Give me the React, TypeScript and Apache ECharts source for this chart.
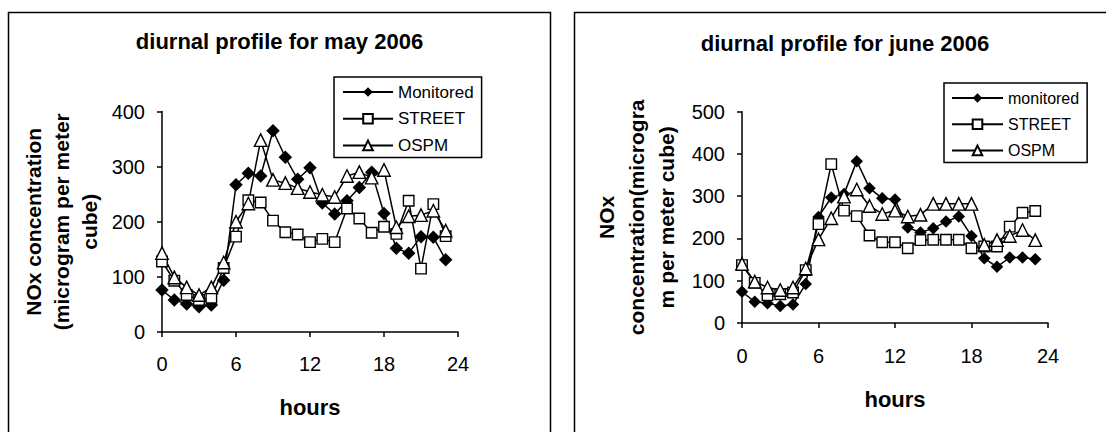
import React, { useEffect, useRef } from "react";
import * as echarts from "echarts";

const hours = [0, 1, 2, 3, 4, 5, 6, 7, 8, 9, 10, 11, 12, 13, 14, 15, 16, 17, 18, 19, 20, 21, 22, 23];

const mayMonitored = [76, 58, 51, 46, 49, 94, 267, 288, 283, 365, 317, 277, 298, 234, 214, 238, 262, 290, 215, 152, 143, 173, 172, 131];
const mayStreet = [128, 93, 67, 58, 62, 116, 173, 239, 235, 202, 181, 177, 163, 169, 163, 224, 206, 180, 191, 178, 238, 115, 232, 174];
const mayOspm = [143, 99, 81, 67, 81, 126, 200, 233, 348, 276, 270, 261, 254, 249, 245, 283, 290, 280, 294, 190, 210, 212, 220, 184];

const juneMonitored = [74, 50, 47, 40, 44, 92, 251, 297, 305, 383, 319, 295, 292, 226, 214, 224, 240, 252, 206, 153, 133, 155, 155, 151];
const juneStreet = [137, 95, 66, 68, 72, 125, 234, 376, 266, 253, 207, 191, 191, 177, 196, 197, 197, 197, 177, 181, 181, 228, 261, 265];
const juneOspm = [140, 98, 84, 78, 84, 129, 198, 248, 299, 316, 277, 258, 266, 252, 256, 282, 282, 282, 282, 185, 196, 206, 220, 196];

const mayNames = ["Monitored", "STREET", "OSPM"];
const juneNames = ["monitored", "STREET", "OSPM"];

const titles = ["diurnal profile for may 2006", "diurnal profile for june 2006"];
const yNames = ["NOx concentration\n(microgram per meter\ncube)", "NOx\nconcentration(microgra\nm per meter cube)"];
const xName = "hours";

const FONT = "'Liberation Sans', Arial, sans-serif";

const pairs = (vals: number[]) => hours.map((h, i) => [h, vals[i]]);

export default function App() {
  const ref = useRef<HTMLDivElement>(null);
  useEffect(() => {
    if (!ref.current) return;
    const chart = echarts.init(ref.current, undefined, { renderer: "svg" });

    const axisLine = { show: true, lineStyle: { color: "#000", width: 1.5 } };
    const axisTick = { show: true, inside: false, length: 5, lineStyle: { color: "#000", width: 1.5 } };

    const mkSeries = (names: string[], data: number[][], idx: number, dSize: number) => [
      {
        name: names[0], type: "line", xAxisIndex: idx, yAxisIndex: idx, data: pairs(data[0]),
        symbol: "diamond", symbolSize: dSize,
        itemStyle: { color: "#000", borderColor: "#000", borderWidth: 0 },
        lineStyle: { color: "#000", width: 1.5 },
      },
      {
        name: names[1], type: "line", xAxisIndex: idx, yAxisIndex: idx, data: pairs(data[1]),
        symbol: "rect", symbolSize: 10.5,
        itemStyle: { color: "#fff", borderColor: "#000", borderWidth: 1.4 },
        lineStyle: { color: "#000", width: 1.5 },
      },
      {
        name: names[2], type: "line", xAxisIndex: idx, yAxisIndex: idx, data: pairs(data[2]),
        symbol: "triangle", symbolSize: 12.5,
        itemStyle: { color: "#fff", borderColor: "#000", borderWidth: 1.4 },
        lineStyle: { color: "#000", width: 1.5 },
      },
    ];

    const xAxisBase = (gridIndex: number, margin: number, nameGap: number) => ({
      type: "value", gridIndex, min: 0, max: 24, interval: 6,
      name: xName, nameLocation: "middle", nameGap,
      nameTextStyle: { fontFamily: FONT, fontSize: 22, fontWeight: "bold", color: "#000" },
      axisLine, axisTick, splitLine: { show: false },
      axisLabel: { fontFamily: FONT, fontSize: 20, color: "#000", margin },
    });

    const yAxisBase = (gridIndex: number, max: number, name: string, nameGap: number, lh: number) => ({
      type: "value", gridIndex, min: 0, max, interval: 100,
      name, nameLocation: "middle", nameRotate: 90, nameGap,
      nameTextStyle: { fontFamily: FONT, fontSize: 21, fontWeight: "bold", color: "#000", lineHeight: lh, align: "center" },
      axisLine, axisTick, splitLine: { show: false },
      axisLabel: { fontFamily: FONT, fontSize: 20, color: "#000", margin: 17 },
    });

    chart.setOption({
      animation: false,
      backgroundColor: "#fff",
      graphic: [
        { type: "rect", shape: { x: 8.5, y: 12.5, width: 542, height: 460 }, style: { fill: "none", stroke: "#000", lineWidth: 1.5 }, z: -1 },
        { type: "rect", shape: { x: 574.5, y: 12.5, width: 600, height: 460 }, style: { fill: "none", stroke: "#000", lineWidth: 1.5 }, z: -1 },
      ],
      title: [
        { text: titles[0], left: 279.5, top: 30, textAlign: "center", padding: 0,
          textStyle: { fontFamily: FONT, fontSize: 22, fontWeight: "bold", color: "#000" } },
        { text: titles[1], left: 845, top: 32, textAlign: "center", padding: 0,
          textStyle: { fontFamily: FONT, fontSize: 22, fontWeight: "bold", color: "#000" } },
      ],
      legend: [
        {
          data: mayNames, orient: "vertical", left: 334, top: 77,
          itemWidth: 50, itemHeight: 12, itemGap: 6.7, padding: [5, 8, 2, 8],
          borderColor: "#000", borderWidth: 1.5, backgroundColor: "#fff",
          textStyle: { fontFamily: FONT, fontSize: 17, color: "#000", lineHeight: 20 },
          selectedMode: false,
        },
        {
          data: juneNames, orient: "vertical", left: 944, top: 83,
          itemWidth: 51, itemHeight: 12, itemGap: 6.2, padding: [5, 8, 2, 7],
          borderColor: "#000", borderWidth: 1.5, backgroundColor: "#fff",
          textStyle: { fontFamily: FONT, fontSize: 16, color: "#000", lineHeight: 20 },
          selectedMode: false,
        },
      ],
      grid: [
        { left: 162, top: 111.5, width: 296, height: 220.5 },
        { left: 742, top: 111.7, width: 306, height: 211.3 },
      ],
      xAxis: [xAxisBase(0, 22, 64), xAxisBase(1, 23, 65)],
      yAxis: [yAxisBase(0, 400, yNames[0], 59, 28), yAxisBase(1, 500, yNames[1], 61, 30)],
      series: [
        ...mkSeries(mayNames, [mayMonitored, mayStreet, mayOspm], 0, 13.5),
        ...mkSeries(juneNames, [juneMonitored, juneStreet, juneOspm], 1, 12.5),
      ],
    });
    return () => chart.dispose();
  }, []);
  return <div ref={ref} style={{ position: "absolute", left: 0, top: 0, width: 1106, height: 432 }} />;
}
